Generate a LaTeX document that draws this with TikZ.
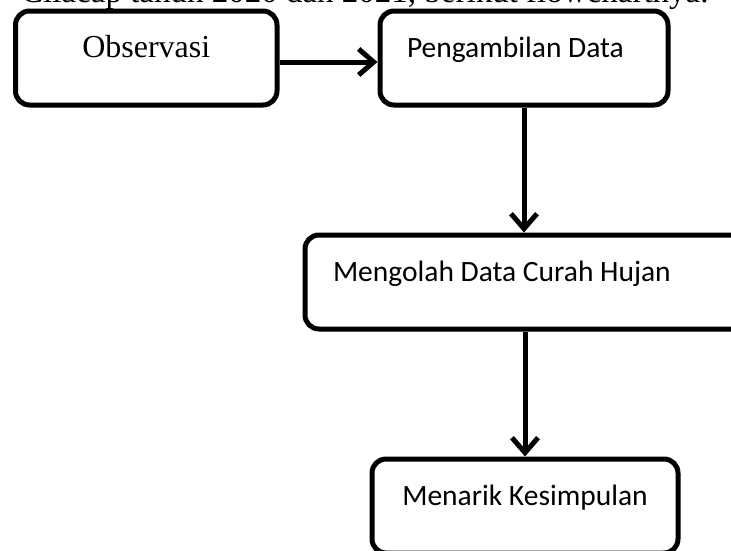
\documentclass[tikz,border=0pt]{standalone}
\usepackage{fontspec}
\setmainfont{Liberation Serif}
\newfontfamily\calibri{Carlito}
\usetikzlibrary{arrows.meta}
\tikzstyle{stage}=[rectangle,rounded corners=14pt,draw=black,line width=5pt,fill=white,inner sep=0pt,text height=46pt,text depth=48pt,font=\calibri\fontsize{29.5}{33}\selectfont]
\tikzstyle{flow}=[draw=black,line width=5pt,-{Straight Barb[length=15pt,width=26pt]}]

\begin{document}
\begin{tikzpicture}[x=1pt,y=-1pt]
  \useasboundingbox (0,0) rectangle (731,550);
  \clip (0,0) rectangle (731,550);
  \node at (21,2.5) [anchor=base west,inner sep=0pt,font=\fontsize{33}{36}\selectfont] (Kalimat) {Cilacap tahun 2020 dan 2021, berikut flowchartnya.};
  \node at (146.25,58) [stage,minimum width=261.5pt,font=\fontsize{32}{36}\selectfont] (Observasi) {Observasi};
  \node at (524,58) [stage,text width=234pt,align=flush left,inner xsep=27pt] (Ambil) {Pengambilan Data};
  \node at (532.5,282) [stage,text width=399pt,align=flush left,inner xsep=28pt] (Olah) {Mengolah Data Curah Hujan};
  \node at (525,506) [stage,minimum width=306pt] (Simpul) {Menarik Kesimpulan};
  \draw [flow] ([yshift=-4pt]Observasi.east) to ([yshift=-4pt]Observasi.east -| Ambil.west);
  \draw [flow] (Ambil.south) to (Ambil.south |- Olah.north);
  \draw [flow] (Olah.south -| Simpul.north) to (Simpul.north);
\end{tikzpicture}
\end{document}
